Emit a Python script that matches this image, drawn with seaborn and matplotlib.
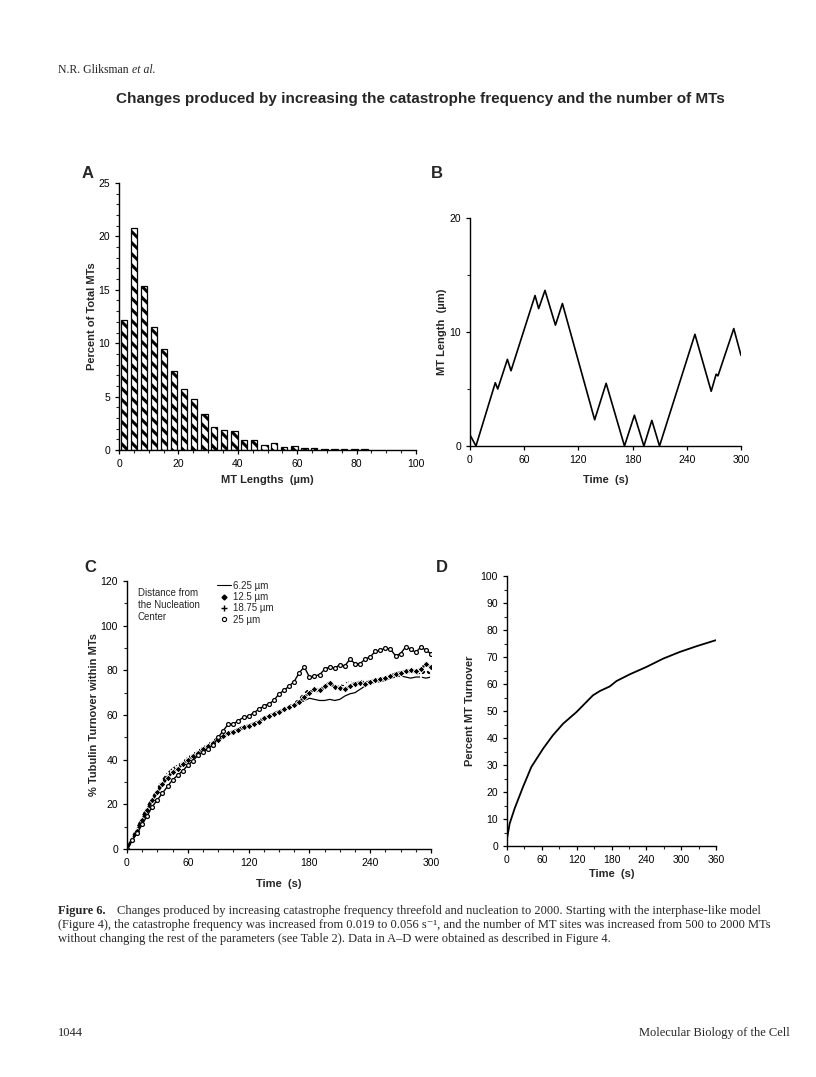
import numpy as np
import pandas as pd
import seaborn as sns
import matplotlib.pyplot as plt
from matplotlib.ticker import MultipleLocator
from matplotlib.lines import Line2D

# ---- data ----
# A: length distribution
length_bins = [1.7, 5.1, 8.4, 11.8, 15.2, 18.5, 21.9, 25.3, 28.7, 32.0, 35.4, 38.8, 42.1,
               45.5, 48.9, 52.2, 55.6, 59.0, 62.4, 65.7, 69.1, 72.5, 75.8, 79.2, 82.6]
pct_mts = [12.2, 20.8, 15.4, 11.5, 9.5, 7.4, 5.7, 4.8, 3.4, 2.2, 1.9, 1.8, 0.9,
           0.9, 0.5, 0.7, 0.25, 0.35, 0.2, 0.15, 0.1, 0.1, 0.1, 0.1, 0.1]

# B: single MT length history
b_time = [0.5, 6.6, 28, 30.7, 41.4, 45.4, 72, 76, 83, 94.6, 102.3, 138, 150.7, 171,
          182, 192.5, 201.3, 209.8, 249, 267, 272.5, 274.5, 292, 300]
b_length = [0.9, 0, 5.55, 5.0, 7.6, 6.6, 13.2, 12.05, 13.65, 10.6, 12.5, 2.3, 5.5, 0,
            2.7, 0, 2.25, 0, 9.8, 4.8, 6.3, 6.15, 10.3, 7.95]

# C: tubulin turnover at four distances
c_time = list(range(0, 305, 5))
c_625 = [0, 4.5, 9.5, 14.5, 19, 23, 27, 31, 34, 36, 37.5, 39, 41, 42.5, 44, 45.5, 47, 48.5,
         50, 51, 52, 53, 54, 55, 55.5, 56.5, 57.5, 58.5, 59.5, 60.5, 61.5, 62, 63, 64, 65,
         66.5, 67.5, 67, 66.5, 66.5, 67, 66.5, 67, 68.5, 69.5, 70, 71.5, 73, 74, 74.5, 75,
         75.5, 76.5, 77, 77.5, 77, 76.5, 77, 77, 76.5, 77]
c_125 = [0, 4, 8, 13, 17.5, 22, 25.5, 29, 32, 34.5, 36, 38, 40, 41.5, 43, 45, 46, 47.5,
         49, 50.5, 52, 52.5, 53.5, 54.5, 55, 56, 57, 58.5, 59.5, 60.5, 61.5, 62.5, 63.5,
         64.5, 66, 68, 70, 71.5, 71, 73, 74.5, 72.5, 72, 71.5, 73, 74, 74.5, 74, 75, 75.5,
         76, 76.5, 77.5, 78.5, 79, 79.5, 80, 79.5, 80.5, 83, 81.5]
c_1875 = [0, 5, 9, 14, 18.5, 22.5, 26.5, 30, 33, 35, 36.5, 38.5, 40.5, 42, 43.5, 45, 46.5,
          48, 49, 50, 51, 52.5, 53.5, 54, 55, 56, 57.5, 58.5, 59.5, 61, 61.5, 62.5, 64, 65,
          67, 69.5, 71.5, 70.5, 70, 72, 73.5, 73, 72.5, 74, 74.5, 74, 75, 75.5, 74.5, 75,
          76, 76.5, 77.5, 78, 78.5, 79, 78.5, 79, 78, 80, 78]
c_25 = [0, 4, 7, 11, 15, 19, 22, 25, 28, 31, 33, 35, 37.5, 39.5, 42, 43.5, 45, 46.5, 50,
        53, 56, 56, 57.5, 59, 59.5, 61, 62.5, 64, 65, 66.5, 69.5, 71, 73, 75, 79, 81.5,
        77, 77.5, 78, 80.5, 81.5, 81, 82.5, 82, 85, 83, 83, 85, 86, 88.5, 89, 90, 89.5,
        86.5, 87.5, 90.5, 89.5, 88, 90.5, 89, 87.5]

# D: overall MT turnover
d_time = [0, 4.6, 13, 27.6, 42, 62, 79, 96.6, 119.6, 148, 160, 177, 188.6, 211.6, 240,
          269, 298, 326.6, 359.4]
d_turnover = [2.7, 8.3, 13.8, 21.9, 29.3, 36, 41, 45.3, 49.6, 55.8, 57.4, 59.1, 61.1,
              63.6, 66.3, 69.4, 71.9, 74, 76.2]

# ---- style ----
sns.set_style("ticks")
plt.rcParams['font.family'] = ['Liberation Sans', 'DejaVu Sans']
plt.rcParams['hatch.linewidth'] = 2.2
plt.rcParams['axes.linewidth'] = 1.0
plt.rcParams['xtick.major.width'] = 0.9
plt.rcParams['ytick.major.width'] = 0.9
plt.rcParams['xtick.minor.width'] = 0.8
plt.rcParams['ytick.minor.width'] = 0.8
plt.rcParams['xtick.major.size'] = 3
plt.rcParams['ytick.major.size'] = 3
plt.rcParams['xtick.minor.size'] = 2
plt.rcParams['ytick.minor.size'] = 2

W, H = 816, 1077
fig = plt.figure(figsize=(W / 100, H / 100), dpi=100)


def add_axes_px(x0, y0, x1, y1):
    return fig.add_axes([x0 / W, 1 - y1 / H, (x1 - x0) / W, (y1 - y0) / H])


tick_fs = 7.5
label_fs = 8


def style_axes(ax):
    sns.despine(ax=ax)
    ax.tick_params(labelsize=tick_fs, colors='black')
    for s in ax.spines.values():
        s.set_color('black')


# panel A
axA = add_axes_px(119, 183, 416, 450)
sns.barplot(x=length_bins, y=pct_mts, native_scale=True, width=0.68, color='white',
            saturation=1, edgecolor='black', linewidth=0.9, hatch='\\\\\\', errorbar=None, ax=axA)
axA.set_xlim(0, 100)
axA.set_ylim(0, 25)
axA.xaxis.set_major_locator(MultipleLocator(20))
axA.xaxis.set_minor_locator(MultipleLocator(5))
axA.yaxis.set_major_locator(MultipleLocator(5))
axA.yaxis.set_minor_locator(MultipleLocator(1))
axA.set_xlabel('MT Lengths  (µm)', fontsize=label_fs, fontweight='bold', labelpad=4)
axA.set_ylabel('Percent of Total MTs', fontsize=label_fs, fontweight='bold', labelpad=1)
style_axes(axA)

# panel B
axB = add_axes_px(470, 218, 741, 446)
sns.lineplot(x=b_time, y=b_length, sort=False, estimator=None, color='black', lw=1.2, ax=axB)
axB.set_xlim(0, 300)
axB.set_ylim(0, 20)
axB.xaxis.set_major_locator(MultipleLocator(60))
axB.yaxis.set_major_locator(MultipleLocator(10))
axB.yaxis.set_minor_locator(MultipleLocator(5))
axB.set_xlabel('Time  (s)', fontsize=label_fs, fontweight='bold', labelpad=7)
axB.set_ylabel('MT Length  (µm)', fontsize=label_fs, fontweight='bold', labelpad=2)
style_axes(axB)

# panel C
axC = add_axes_px(127, 581, 431, 849)
sns.lineplot(x=c_time, y=c_625, color='black', lw=0.9, ax=axC)
sns.lineplot(x=c_time, y=c_1875, color='black', lw=1.6, marker='+', markersize=5,
             markeredgewidth=1.3, ax=axC)
sns.lineplot(x=c_time, y=c_125, color='black', lw=1.9, marker='D', markersize=3.4,
             markeredgewidth=0.6, ax=axC)
sns.lineplot(x=c_time, y=c_25, color='black', lw=1.0, marker='o', markersize=2.8,
             markerfacecolor='white', markeredgecolor='black', markeredgewidth=0.9, ax=axC)
axC.set_xlim(0, 300)
axC.set_ylim(0, 120)
axC.xaxis.set_major_locator(MultipleLocator(60))
axC.xaxis.set_minor_locator(MultipleLocator(15))
axC.yaxis.set_major_locator(MultipleLocator(20))
axC.yaxis.set_minor_locator(MultipleLocator(10))
axC.set_xlabel('Time  (s)', fontsize=label_fs, fontweight='bold', labelpad=8)
axC.set_ylabel('% Tubulin Turnover within MTs', fontsize=label_fs, fontweight='bold', labelpad=1)
style_axes(axC)
handles = [
    Line2D([], [], color='black', lw=0.8),
    Line2D([], [], color='black', lw=0, marker='D', markersize=2.5),
    Line2D([], [], color='black', lw=0, marker='+', markersize=4.5, markeredgewidth=1.0),
    Line2D([], [], color='black', lw=0, marker='o', markersize=3.0, markerfacecolor='white',
           markeredgewidth=0.8),
]
axC.legend(handles, ['6.25 µm', '12.5 µm', '18.75 µm', '25 µm'], loc='upper left',
           bbox_to_anchor=(0.28, 1.02), frameon=False, fontsize=7, handlelength=1.4,
           handletextpad=0.2, labelspacing=0.15, borderpad=0)
axC.text(0.035, 0.975, 'Distance from\nthe Nucleation\nCenter', transform=axC.transAxes,
         fontsize=7, va='top', ha='left', linespacing=1.25)

# panel D
axD = add_axes_px(507, 576, 716, 846)
sns.lineplot(x=d_time, y=d_turnover, sort=False, estimator=None, color='black', lw=1.3, ax=axD)
axD.set_xlim(0, 360)
axD.set_ylim(0, 100)
axD.xaxis.set_major_locator(MultipleLocator(60))
axD.xaxis.set_minor_locator(MultipleLocator(30))
axD.yaxis.set_major_locator(MultipleLocator(10))
axD.yaxis.set_minor_locator(MultipleLocator(5))
axD.set_xlabel('Time  (s)', fontsize=label_fs, fontweight='bold', labelpad=3)
axD.set_ylabel('Percent MT Turnover', fontsize=label_fs, fontweight='bold', labelpad=4)
style_axes(axD)

# panel letters
for letter, (px, py) in {'A': (88, 174), 'B': (437, 173), 'C': (90, 567), 'D': (442, 567)}.items():
    fig.text(px / W, 1 - py / H, letter, fontsize=12, fontweight='bold', ha='center', va='center')

# page texts
serif = ['Liberation Serif', 'DejaVu Serif']
fig.text(58 / W, 1 - 70 / H, 'N.R. Gliksman', family=serif, fontsize=8.5, va='center', ha='left')
fig.text(132 / W, 1 - 70 / H, 'et al.', family=serif, fontsize=8.5, style='italic', va='center',
         ha='left')
fig.text(420 / W, 1 - 99 / H,
         'Changes produced by increasing the catastrophe frequency and the number of MTs',
         fontsize=11, fontweight='bold', ha='center', va='center')

cap_lines = [
    'Changes produced by increasing catastrophe frequency threefold and nucleation to 2000. '
    'Starting with the interphase-like model',
    '(Figure 4), the catastrophe frequency was increased from 0.019 to 0.056 s⁻¹, and the number '
    'of MT sites was increased from 500 to 2000 MTs',
    'without changing the rest of the parameters (see Table 2). Data in A–D were obtained as '
    'described in Figure 4.',
]
cap_fs = 9.0
fig.text(58 / W, 1 - 911 / H, 'Figure 6.', family=serif, fontsize=cap_fs, fontweight='bold',
         va='center', ha='left')
fig.text(117 / W, 1 - 911 / H, cap_lines[0], family=serif, fontsize=cap_fs, va='center', ha='left')
fig.text(58 / W, 1 - 925 / H, cap_lines[1], family=serif, fontsize=cap_fs, va='center', ha='left')
fig.text(58 / W, 1 - 939 / H, cap_lines[2], family=serif, fontsize=cap_fs, va='center', ha='left')

fig.text(58 / W, 1 - 1033 / H, '1044', family=serif, fontsize=9, va='center', ha='left')
fig.text(790 / W, 1 - 1033 / H, 'Molecular Biology of the Cell', family=serif, fontsize=9,
         va='center', ha='right')

fig.savefig('out.png', dpi=100)
